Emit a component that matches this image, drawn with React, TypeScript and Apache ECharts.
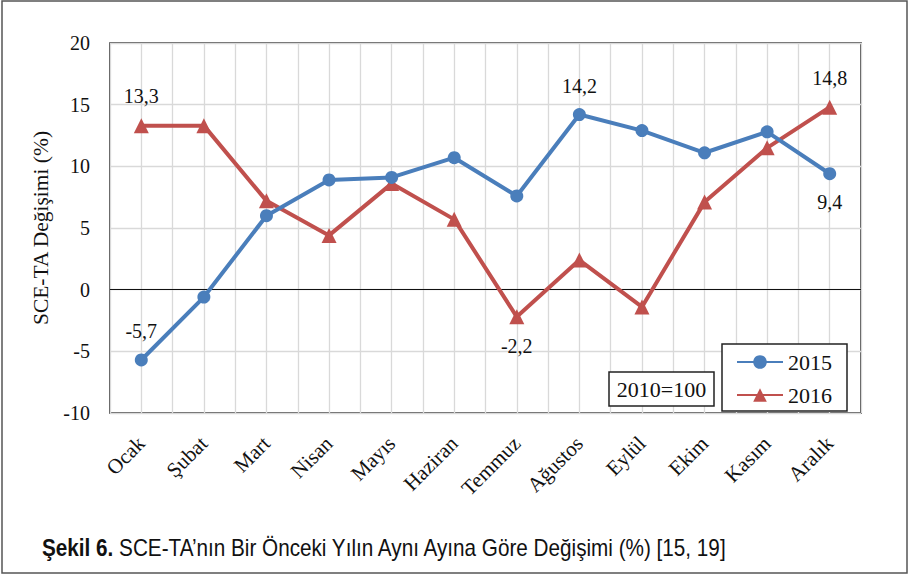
import React, { useEffect, useRef } from "react";
import * as echarts from "echarts";

const months = ["Ocak", "Şubat", "Mart", "Nisan", "Mayıs", "Haziran", "Temmuz", "Ağustos", "Eylül", "Ekim", "Kasım", "Aralık"];
const values2015 = [-5.7, -0.6, 6.0, 8.9, 9.1, 10.7, 7.6, 14.2, 12.9, 11.1, 12.8, 9.4];
const values2016 = [13.3, 13.3, 7.2, 4.4, 8.6, 5.7, -2.2, 2.4, -1.4, 7.1, 11.5, 14.8];
const labels2015 = [{ i: 0, pos: "top" }, { i: 7, pos: "top" }, { i: 11, pos: "bottom" }];
const labels2016 = [{ i: 0, pos: "top" }, { i: 6, pos: "bottom" }, { i: 11, pos: "top" }];
const yTicks = { min: -10, max: 20, interval: 5 };

const SERIF = "'Liberation Serif', 'Times New Roman', serif";
const NARROW = "'Liberation Sans Narrow', 'Arial Narrow', 'Liberation Sans', sans-serif";
const BLUE = "#4A7EBB";
const RED = "#C0504D";

function fmt(v: number) {
  return String(v.toFixed(1)).replace(".", ",");
}

function buildData(vals: number[], labs: { i: number; pos: string }[]) {
  return vals.map((v, i) => {
    const l = labs.find((x) => x.i === i);
    if (!l) return v;
    return {
      value: v,
      label: {
        show: true,
        position: l.pos,
        distance: 12,
        formatter: () => fmt(v),
        fontFamily: SERIF,
        fontSize: 20,
        color: "#111",
      },
    };
  });
}

export default function App() {
  const ref = useRef<HTMLDivElement>(null);
  useEffect(() => {
    if (!ref.current) return;
    const chart = echarts.init(ref.current, null, { renderer: "svg" });
    chart.setOption({
      animation: false,
      backgroundColor: "#fff",
      grid: {
        left: 110,
        top: 43,
        width: 751,
        height: 370,
        show: true,
        borderColor: "#222",
        borderWidth: 1.5,
        backgroundColor: "transparent",
      },
      legend: {
        orient: "vertical",
        left: 722,
        top: 344,
        padding: [7, 15, 5, 14],
        itemGap: 11,
        itemWidth: 46,
        itemHeight: 17,
        borderColor: "#222",
        borderWidth: 1.5,
        backgroundColor: "#fff",
        textStyle: { fontFamily: SERIF, fontSize: 22, color: "#111" },
        data: ["2015", "2016"],
      },
      xAxis: [
        {
          type: "category",
          data: months,
          boundaryGap: true,
          axisLine: { show: false },
          axisTick: { show: false },
          splitLine: { show: false },
          axisLabel: {
            rotate: 45,
            margin: 27,
            fontFamily: SERIF,
            fontSize: 21,
            color: "#111",
            interval: 0,
          },
        },
        {
          type: "value",
          min: 0,
          max: 24,
          interval: 1,
          position: "top",
          axisLine: { show: false },
          axisTick: { show: false },
          axisLabel: { show: false },
          splitLine: { show: true, lineStyle: { color: "#d9d9d9", width: 1.3 } },
        },
      ],
      yAxis: {
        type: "value",
        min: yTicks.min,
        max: yTicks.max,
        interval: yTicks.interval,
        name: "SCE-TA Değişimi (%)",
        nameLocation: "middle",
        nameGap: 49,
        nameTextStyle: { fontFamily: SERIF, fontSize: 21.5, color: "#111" },
        axisLine: { show: false },
        axisTick: { show: false },
        axisLabel: { fontFamily: SERIF, fontSize: 20, color: "#111", margin: 20 },
        splitLine: { show: true, lineStyle: { color: "#d9d9d9", width: 1.3 } },
      },
      series: [
        {
          name: "2015",
          type: "line",
          data: buildData(values2015, labels2015),
          symbol: "circle",
          symbolSize: 13,
          lineStyle: { color: BLUE, width: 4 },
          itemStyle: { color: BLUE },
          z: 3,
          markLine: {
            silent: true,
            symbol: "none",
            label: { show: false },
            lineStyle: { color: "#111", width: 1.2, type: "solid" },
            data: [{ yAxis: 0 }],
            z: 1,
          },
        },
        {
          name: "2016",
          type: "line",
          data: buildData(values2016, labels2016),
          symbol: "triangle",
          symbolSize: 15,
          lineStyle: { color: RED, width: 4 },
          itemStyle: { color: RED },
          z: 2,
        },
      ],
      graphic: [
        {
          type: "rect",
          shape: { x: 2, y: 1, width: 905, height: 572 },
          style: { fill: "none", stroke: "#555", lineWidth: 1.5 },
          silent: true,
        },
        {
          type: "rect",
          shape: { x: 609, y: 372, width: 105, height: 34 },
          style: { fill: "#fff", stroke: "#222", lineWidth: 1.5 },
          z: 10,
        },
        {
          type: "text",
          x: 661.5,
          y: 389,
          style: {
            text: "2010=100",
            fontFamily: SERIF,
            fontSize: 22,
            fill: "#111",
            align: "center",
            verticalAlign: "middle",
          },
          z: 11,
        },
        {
          type: "text",
          x: 42,
          y: 548,
          scaleX: 0.9,
          style: {
            text: "{b|Şekil 6.} SCE-TA’nın Bir Önceki Yılın Aynı Ayına Göre Değişimi (%) [15, 19]",
            rich: {
              b: { fontFamily: NARROW, fontSize: 23, fontWeight: "bold", fill: "#111" },
            },
            fontFamily: NARROW,
            fontSize: 23,
            fill: "#111",
            verticalAlign: "middle",
          },
        },
      ],
    });
    return () => chart.dispose();
  }, []);
  return (
    <div
      ref={ref}
      style={{ position: "fixed", left: 0, top: 0, width: 909, height: 576 }}
    />
  );
}
